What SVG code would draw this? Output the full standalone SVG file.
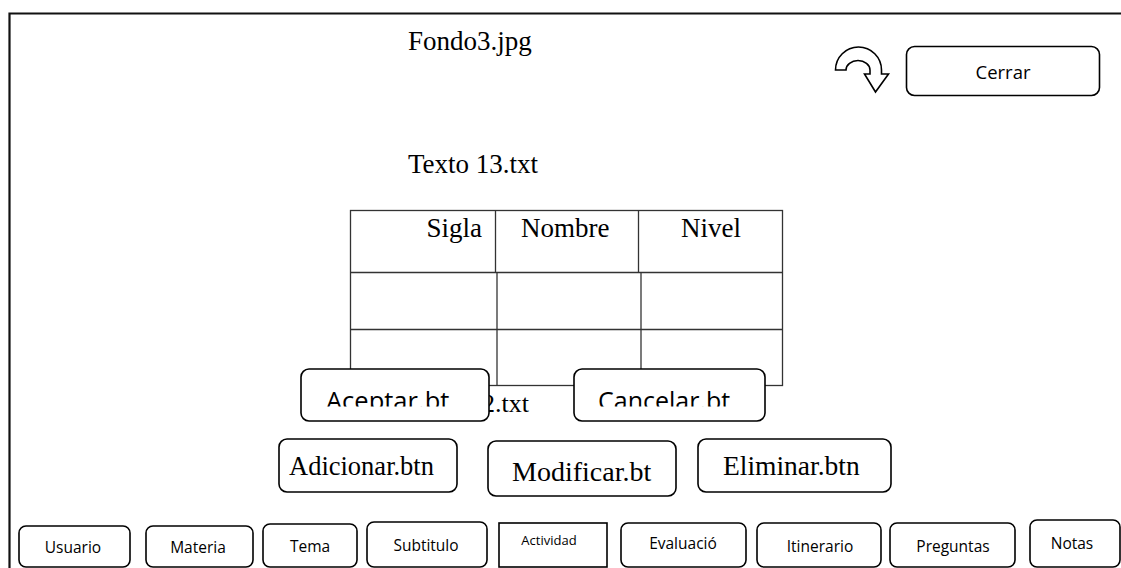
<svg xmlns="http://www.w3.org/2000/svg" width="1121" height="568" viewBox="0 0 1121 568">
  <style>
    .serif { font-family: "Liberation Serif", "Times New Roman", serif; fill: #000; }
    .sans { font-family: "Open Sans", "Noto Sans", "Liberation Sans", sans-serif; fill: #000; }
    .btn { fill: #fff; stroke: #000; stroke-width: 1.6; }
    .grid { fill: none; stroke: #333; stroke-width: 1.3; }
    .frame { fill: none; stroke: #111; stroke-width: 2.2; }
    .nav { font-size: 15.5px; }
  </style>
  <defs>
    <clipPath id="clipAceptar"><rect x="301" y="369" width="188" height="37.5"/></clipPath>
    <clipPath id="clipCancelar"><rect x="574" y="369" width="191" height="37.5"/></clipPath>
  </defs>

  <rect width="1121" height="568" fill="#fff"/>

  <!-- window frame: top and left edges -->
  <path class="frame" d="M9.5,569 V13.5 H1122"/>

  <!-- titles -->
  <g id="fondo">
    <text class="serif" x="408" y="50" font-size="27">Fondo3.jpg</text>
  </g>
  <g id="texto13">
    <text class="serif" x="408" y="173" font-size="27">Texto 13.txt</text>
  </g>

  <!-- undo icon -->
  <g id="undo-icon">
    <path d="M835.5,70 A23,23 0 0 1 881.5,70 V74 H888.5 L875.5,92 L864.5,74 H870 V70 A12,9.5 0 0 0 846,70 Z" fill="#fff" stroke="#000" stroke-width="1.6" stroke-linejoin="miter"/>
  </g>

  <!-- close button -->
  <g id="cerrar">
    <rect class="btn" x="906.5" y="46.5" width="193" height="49" rx="8"/>
    <text class="sans" x="1003" y="79" font-size="18.5" text-anchor="middle">Cerrar</text>
  </g>

  <!-- data table -->
  <g id="tabla">
    <rect class="grid" x="350.5" y="210.5" width="432" height="175"/>
    <line class="grid" x1="350.5" y1="272.5" x2="782.5" y2="272.5"/>
    <line class="grid" x1="350.5" y1="329.5" x2="782.5" y2="329.5"/>
    <line class="grid" x1="495.5" y1="210.5" x2="495.5" y2="272.5"/>
    <line class="grid" x1="497" y1="272.5" x2="497" y2="385.5"/>
    <line class="grid" x1="638.5" y1="210.5" x2="638.5" y2="272.5"/>
    <line class="grid" x1="641" y1="272.5" x2="641" y2="385.5"/>
    <text class="serif" x="482" y="237" font-size="27" text-anchor="end">Sigla</text>
    <text class="serif" x="521" y="237" font-size="27">Nombre</text>
    <text class="serif" x="681" y="237" font-size="27">Nivel</text>
  </g>

  <!-- caption partly covered by the Aceptar button -->
  <g id="texto12">
    <text class="serif" x="482" y="412" font-size="26">2.txt</text>
  </g>

  <g id="aceptar">
    <rect class="btn" x="301" y="369" width="188" height="52" rx="8"/>
    <text class="sans" x="326" y="410" font-size="25.5" clip-path="url(#clipAceptar)">Aceptar.bt</text>
  </g>
  <g id="cancelar">
    <rect class="btn" x="574" y="369" width="191" height="52" rx="8"/>
    <text class="sans" x="598" y="410" font-size="25" clip-path="url(#clipCancelar)">Cancelar.bt</text>
  </g>

  <!-- edit buttons -->
  <g id="adicionar">
    <rect class="btn" x="279" y="439" width="178" height="53" rx="8"/>
    <text class="serif" x="289" y="475" font-size="26.5">Adicionar.btn</text>
  </g>
  <g id="modificar">
    <rect class="btn" x="488" y="441" width="188" height="55" rx="8"/>
    <text class="serif" x="512" y="481" font-size="28">Modificar.bt</text>
  </g>
  <g id="eliminar">
    <rect class="btn" x="698" y="439" width="193" height="53" rx="8"/>
    <text class="serif" x="723" y="475" font-size="27.5">Eliminar.btn</text>
  </g>

  <!-- navigation bar -->
  <g id="usuario">
    <rect class="btn" x="19" y="526" width="111" height="41" rx="7"/>
    <text class="sans nav" x="73" y="553" text-anchor="middle">Usuario</text>
  </g>
  <g id="materia">
    <rect class="btn" x="146" y="526" width="107" height="41" rx="7"/>
    <text class="sans nav" x="198" y="553" text-anchor="middle">Materia</text>
  </g>
  <g id="tema">
    <rect class="btn" x="263" y="524" width="94" height="43" rx="7"/>
    <text class="sans nav" x="310" y="552" text-anchor="middle">Tema</text>
  </g>
  <g id="subtitulo">
    <rect class="btn" x="367" y="522" width="120" height="45" rx="7"/>
    <text class="sans nav" x="426" y="551" text-anchor="middle">Subtitulo</text>
  </g>
  <g id="actividad">
    <rect class="btn" x="499" y="523" width="108" height="44"/>
    <text class="sans" x="549" y="545" font-size="13" text-anchor="middle">Actividad</text>
  </g>
  <g id="evaluacion">
    <rect class="btn" x="621" y="523" width="125" height="44" rx="7"/>
    <text class="sans nav" x="683" y="549" text-anchor="middle">Evaluació</text>
  </g>
  <g id="itinerario">
    <rect class="btn" x="757" y="523" width="124" height="44" rx="7"/>
    <text class="sans nav" x="820" y="552" text-anchor="middle">Itinerario</text>
  </g>
  <g id="preguntas">
    <rect class="btn" x="890" y="523" width="125" height="44" rx="7"/>
    <text class="sans nav" x="953" y="552" text-anchor="middle">Preguntas</text>
  </g>
  <g id="notas">
    <rect class="btn" x="1030" y="520" width="90" height="47" rx="7"/>
    <text class="sans nav" x="1072" y="549" text-anchor="middle">Notas</text>
  </g>

  <!-- no connectors in this layout -->
  <g id="connectors"/>
</svg>
